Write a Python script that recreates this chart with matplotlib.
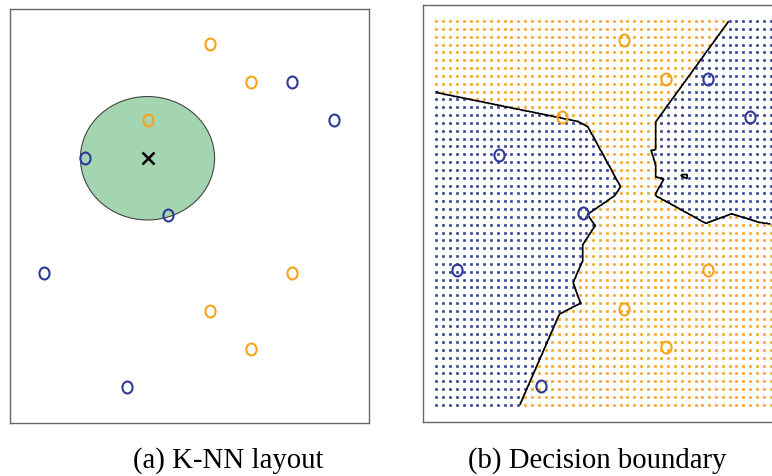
import numpy as np
import matplotlib
matplotlib.use('Agg')
import matplotlib.pyplot as plt
from matplotlib.patches import Circle
from matplotlib.path import Path
from matplotlib.transforms import Affine2D

orange_x = [4, 5, 2.5, 6, 4, 5]
orange_y = [9, 8, 7, 3, 2, 1]
blue_x = [6, 7, 1, 3, 0, 2]
blue_y = [8, 7, 6, 4.5, 3, 0]

# test point and neighbourhood
test_x, test_y = 2.5, 6
radius = 1.62
k = 3

captions = ['(a) K-NN layout', '(b) Decision boundary']

ORANGE = '#F7A21B'
BLUE = '#2E3A96'
GREEN = '#A4D5B1'

XLIM = (-0.82, 7.85)
YLIM = (-0.95, 9.92)


def knn_orange_share(gx, gy):
    px = np.array(orange_x + blue_x, dtype=float)
    py = np.array(orange_y + blue_y, dtype=float)
    lab = np.array([1] * len(orange_x) + [0] * len(blue_x))
    d = (gx[..., None] - px) ** 2 + (gy[..., None] - py) ** 2
    idx = np.argsort(d, axis=-1)[..., :k]
    return lab[idx].mean(axis=-1)


def style_frame(ax):
    ax.set_xlim(*XLIM)
    ax.set_ylim(*YLIM)
    ax.set_xticks([])
    ax.set_yticks([])
    for s in ax.spines.values():
        s.set_color('#666666')
        s.set_linewidth(1.0)


def main():
    fig = plt.figure(figsize=(7.72, 4.76), dpi=100)
    ax1 = fig.add_axes([0.013, 0.1113, 0.465, 0.870])
    ax2 = fig.add_axes([0.548, 0.1134, 0.469, 0.876])

    # slightly tall ellipse to mimic the printed letter "o"
    ring = Path.unit_circle().transformed(Affine2D().scale(0.85, 1.0))

    # (a) layout
    ax1.add_patch(Circle((test_x, test_y), radius, facecolor=GREEN,
                         edgecolor='#444444', linewidth=0.8, zorder=1))
    ax1.plot(orange_x, orange_y, linestyle='none', marker=ring, markersize=8.6,
             markerfacecolor='none', markeredgecolor=ORANGE, markeredgewidth=1.5, zorder=3)
    ax1.plot(blue_x, blue_y, linestyle='none', marker=ring, markersize=8.6,
             markerfacecolor='none', markeredgecolor=BLUE, markeredgewidth=1.5, zorder=3)
    ax1.plot([test_x], [test_y], linestyle='none', marker='x', markersize=8,
             color='black', markeredgewidth=1.8, zorder=4)
    style_frame(ax1)

    # (b) decision boundary
    gx, gy = np.meshgrid(np.linspace(-0.5, 7.5, 50), np.linspace(-0.5, 9.5, 50))
    share = knn_orange_share(gx, gy)
    is_orange = share > 0.5
    dots_o = ax2.scatter(gx[is_orange], gy[is_orange], marker='s', s=3.5, color=ORANGE,
                         linewidths=0, zorder=1)
    dots_b = ax2.scatter(gx[~is_orange], gy[~is_orange], marker='s', s=3.5, color=BLUE,
                         linewidths=0, zorder=1)
    dots_o.set_snap(False)
    dots_b.set_snap(False)

    fx, fy = np.meshgrid(np.linspace(-0.5, 7.5, 500), np.linspace(-0.5, 9.5, 600))
    ax2.contour(fx, fy, knn_orange_share(fx, fy), levels=[0.5], colors='black',
                linewidths=1.2, zorder=2)

    ax2.plot(orange_x, orange_y, linestyle='none', marker=ring, markersize=8.6,
             markerfacecolor='none', markeredgecolor=ORANGE, markeredgewidth=1.5, zorder=3)
    ax2.plot(blue_x, blue_y, linestyle='none', marker=ring, markersize=8.6,
             markerfacecolor='none', markeredgecolor=BLUE, markeredgewidth=1.5, zorder=3)
    style_frame(ax2)

    fig.text(228 / 772, 1 - 461 / 476, captions[0], ha='center', va='center',
             family='Liberation Serif', fontsize=20.7)
    fig.text(597 / 772, 1 - 461 / 476, captions[1], ha='center', va='center',
             family='Liberation Serif', fontsize=20.7)

    fig.savefig('out.png', dpi=100)
    plt.close(fig)


if __name__ == '__main__':
    main()
